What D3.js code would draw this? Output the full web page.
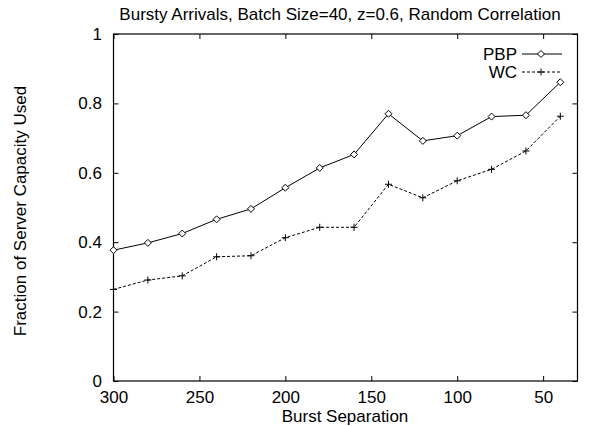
<!DOCTYPE html>
<html>
<head>
<meta charset="utf-8">
<script src="https://cdn.jsdelivr.net/npm/d3@7"></script>
<style>
  body { margin: 0; background: #fff; }
  svg { display: block; font-family: "Liberation Sans", Arial, sans-serif; }
</style>
</head>
<body>
<svg width="592" height="426"></svg>
<script>
const separations = [300, 280, 260, 240, 220, 200, 180, 160, 140, 120, 100, 80, 60, 40];
const pbp = [0.377, 0.398, 0.425, 0.466, 0.496, 0.557, 0.614, 0.653, 0.770, 0.692, 0.707, 0.762, 0.766, 0.861];
const wc = [0.264, 0.291, 0.303, 0.358, 0.361, 0.413, 0.443, 0.443, 0.567, 0.528, 0.577, 0.610, 0.663, 0.763];
const xTicks = [300, 250, 200, 150, 100, 50];
const yTicks = [0, 0.2, 0.4, 0.6, 0.8, 1];

const svg = d3.select("svg");
const m = { left: 113.5, right: 577.5, top: 34, bottom: 381 };
const fs = 17;

const x = d3.scaleLinear().domain([300, 30]).range([m.left, m.right]);
const y = d3.scaleLinear().domain([0, 1]).range([m.bottom, m.top]);

const tickLen = 5;

// frame
svg.append("rect")
  .attr("x", m.left).attr("y", m.top)
  .attr("width", m.right - m.left).attr("height", m.bottom - m.top)
  .attr("fill", "none").attr("stroke", "#000").attr("stroke-width", 1.2);

// axes, ticks pointing inward, mirrored on top and right
const xb = svg.append("g").attr("transform", `translate(0,${m.bottom})`)
  .call(d3.axisBottom(x).tickValues(xTicks).tickSizeInner(-tickLen).tickSizeOuter(0).tickPadding(9.5));
const xt = svg.append("g").attr("transform", `translate(0,${m.top})`)
  .call(d3.axisTop(x).tickValues(xTicks).tickSizeInner(-tickLen).tickSizeOuter(0).tickFormat(""));
const yl = svg.append("g").attr("transform", `translate(${m.left},0)`)
  .call(d3.axisLeft(y).tickValues(yTicks).tickSizeInner(-tickLen).tickSizeOuter(0).tickPadding(11.5).tickFormat(d3.format("")));
const yr = svg.append("g").attr("transform", `translate(${m.right},0)`)
  .call(d3.axisRight(y).tickValues(yTicks).tickSizeInner(-tickLen).tickSizeOuter(0).tickFormat(""));

[xb, xt, yl, yr].forEach(g => {
  g.select(".domain").remove();
  g.selectAll(".tick line").attr("stroke", "#000");
  g.selectAll("text").attr("font-size", fs).attr("fill", "#000")
    .attr("font-family", "Liberation Sans, Arial, sans-serif");
});

// titles
svg.append("text")
  .attr("x", 340).attr("y", 20)
  .attr("text-anchor", "middle").attr("font-size", fs)
  .text("Bursty Arrivals, Batch Size=40, z=0.6, Random Correlation");

svg.append("text")
  .attr("x", 345).attr("y", 422)
  .attr("text-anchor", "middle").attr("font-size", fs)
  .text("Burst Separation");

svg.append("text")
  .attr("transform", "translate(26,211) rotate(-90)")
  .attr("text-anchor", "middle").attr("font-size", fs)
  .text("Fraction of Server Capacity Used");

// series
const series = [
  { name: "PBP", values: pbp, dash: null, marker: "diamond" },
  { name: "WC", values: wc, dash: "3,2", marker: "plus" }
];

function drawMarker(g, type, cx, cy) {
  if (type === "diamond") {
    g.append("path")
      .attr("d", `M${cx},${cy - 3.5}L${cx + 3.5},${cy}L${cx},${cy + 3.5}L${cx - 3.5},${cy}Z`)
      .attr("fill", "#fff").attr("stroke", "#000").attr("stroke-width", 1);
  } else {
    g.append("path")
      .attr("d", `M${cx - 3.5},${cy}H${cx + 3.5}M${cx},${cy - 3.5}V${cy + 3.5}`)
      .attr("stroke", "#000").attr("stroke-width", 1);
  }
}

const line = d3.line().x((d, i) => x(separations[i])).y(d => y(d));

series.forEach((s, si) => {
  const g = svg.append("g");
  g.append("path")
    .attr("d", line(s.values))
    .attr("fill", "none").attr("stroke", "#000").attr("stroke-width", 1)
    .attr("stroke-dasharray", s.dash);
  s.values.forEach((v, i) => drawMarker(g, s.marker, x(separations[i]), y(v)));

  // legend
  const ly = 54 + si * 18;
  svg.append("text")
    .attr("x", 517).attr("y", ly).attr("dy", "0.35em")
    .attr("text-anchor", "end").attr("font-size", fs)
    .text(s.name);
  svg.append("line")
    .attr("x1", 522).attr("x2", 562).attr("y1", ly).attr("y2", ly)
    .attr("stroke", "#000").attr("stroke-width", 1)
    .attr("stroke-dasharray", s.dash);
  drawMarker(svg, s.marker, 541, ly);
});
</script>
</body>
</html>
